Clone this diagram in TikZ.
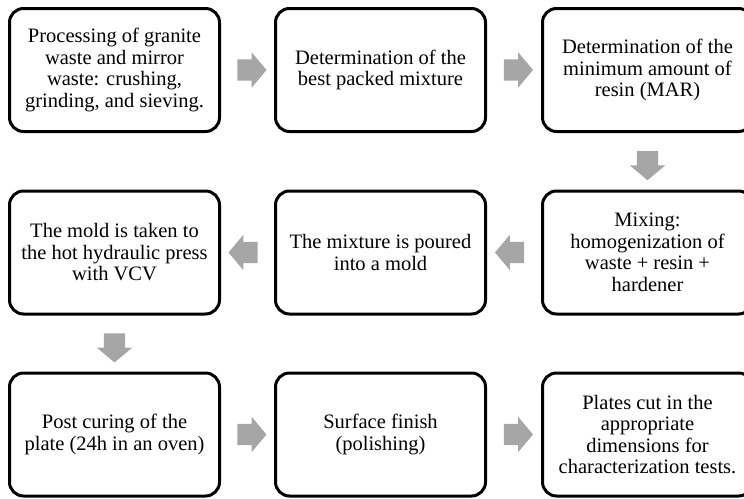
\documentclass[tikz,border=0pt]{standalone}
\usepackage{fontspec}
\setmainfont{Liberation Serif}
\usetikzlibrary{shapes.arrows,calc}
\definecolor{arrowgray}{RGB}{166,166,166}
\begin{document}
\begin{tikzpicture}[x=1pt,y=-1pt, font=\fontsize{20.5}{21.5}\selectfont, line join=round,
	box/.style={draw, line width=3pt, rounded corners=14pt, minimum width=210pt, minimum height=123pt, align=center, inner sep=2pt},
	flow/.style={single arrow, fill=arrowgray, draw=none, minimum height=29pt, single arrow head extend=7pt, single arrow tip angle=100, inner xsep=0pt, inner ysep=10.5pt},
	flowdown/.style={flow, shape border rotate=270, inner xsep=10.5pt, inner ysep=0pt}]
	\def\ca{114.5} \def\cb{380.5} \def\cc{647.5} % columns
	\def\ra{70} \def\rb{252.5} \def\rc{434.5} % rows
	\useasboundingbox (0,0) rectangle (744,498);
	\clip (0,0) rectangle (744,498);
	% first row
	\node[box] (crush) at (\ca,\ra) {Processing of granite\\waste and mirror\\waste: crushing,\\grinding, and sieving.};
	\node[box] (packing) at (\cb,\ra) {Determination of the\\best packed mixture};
	\node[box] (resin) at (\cc,\ra) {Determination of the\\minimum amount of\\resin (MAR)};
	% second row
	\node[box] (mixing) at (\cc,\rb) {Mixing:\\homogenization of\\waste + resin +\\hardener};
	\node[box] (pour) at (\cb,\rb) {The mixture is poured\\into a mold};
	\node[box] (press) at (\ca,\rb) {The mold is taken to\\the hot hydraulic press\\with VCV};
	% third row
	\node[box] (curing) at (\ca,\rc) {Post curing of the\\plate (24h in an oven)};
	\node[box] (finish) at (\cb,\rc) {Surface finish\\(polishing)};
	\node[box] (cut) at (\cc,\rc) {Plates cut in the\\appropriate\\dimensions for\\characterization tests.};
	% arrows
	\node[flow] (f1) at ($(crush.east)!.5!(packing.west)$) {};
	\node[flow] (f2) at ($(packing.east)!.5!(resin.west)$) {};
	\node[flowdown] (f3) at ($(resin.south)!.5!(mixing.north)$) {};
	\node[flow, shape border rotate=180] (f4) at ($(mixing.west)!.5!(pour.east)$) {};
	\node[flow, shape border rotate=180] (f5) at ($(pour.west)!.5!(press.east)$) {};
	\node[flowdown] (f6) at ($(press.south)!.5!(curing.north)$) {};
	\node[flow] (f7) at ($(curing.east)!.5!(finish.west)$) {};
	\node[flow] (f8) at ($(finish.east)!.5!(cut.west)$) {};
\end{tikzpicture}
\end{document}
